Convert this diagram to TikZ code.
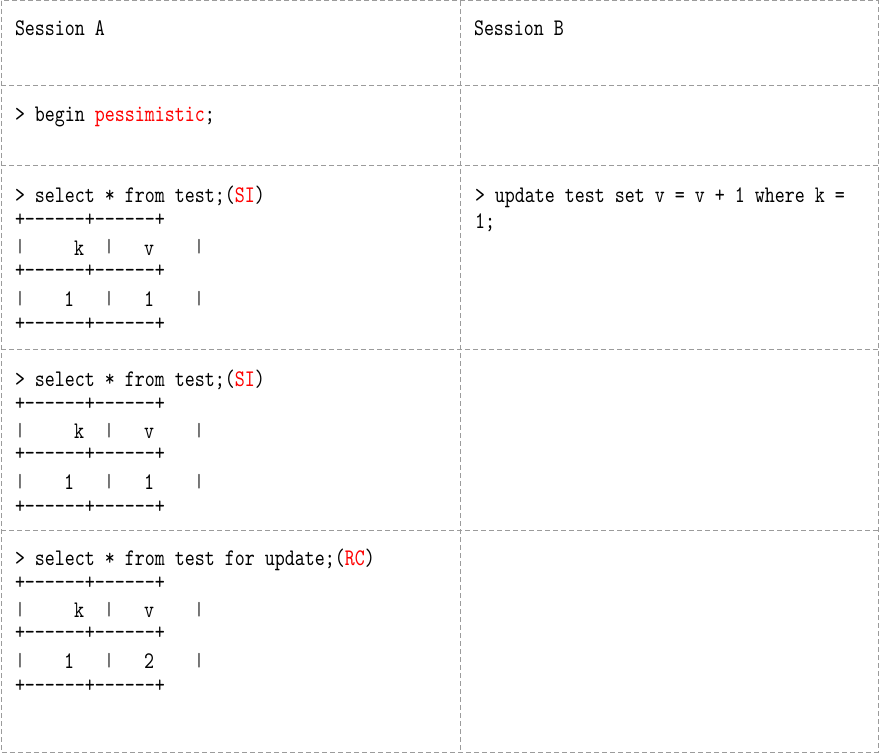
\documentclass[tikz,border=0pt]{standalone}
\usepackage{fontspec}
\newfontfamily\mono{lmmono10-regular.otf}[FakeStretch=0.8]
\definecolor{bordergray}{RGB}{155,155,155}
\definecolor{kwred}{RGB}{255,0,0}
\tikzset{
  cellline/.style={draw=bordergray, dash pattern=on 5pt off 3pt, line width=1pt},
  txt/.style={anchor=base west, inner sep=0pt, outer sep=0pt, font=\mono\fontsize{23.8}{26}\selectfont},
  ch/.style={anchor=base, inner sep=0pt, outer sep=0pt, font=\mono\fontsize{23.8}{26}\selectfont},
  bar/.style={anchor=base, inner sep=0pt, outer sep=0pt, font=\mono\fontsize{19}{20}\selectfont}
}
\newcommand{\asciitab}[3]{%
  \node[txt] (#1p1) at (15,#2) {+------+------+};
  \node[bar] (#1b1) at (20,#2+26) {|};
  \node[ch] (#1k) at (79,#2+28) {k};
  \node[bar] (#1b2) at (109,#2+26) {|};
  \node[ch] (#1v) at (149,#2+28) {v};
  \node[bar] (#1b3) at (199,#2+26) {|};
  \node[txt] (#1p2) at (15,#2+50) {+------+------+};
  \node[bar] (#1c1) at (20,#2+77) {|};
  \node[ch] (#1kv) at (69,#2+79) {1};
  \node[bar] (#1c2) at (109,#2+77) {|};
  \node[ch] (#1vv) at (149,#2+79) {#3};
  \node[bar] (#1c3) at (199,#2+77) {|};
  \node[txt] (#1p3) at (15,#2+103) {+------+------+};
}
\begin{document}
\begin{tikzpicture}[x=1pt,y=-1pt]
\useasboundingbox (0,0) rectangle (881,754);
% grid
\draw[cellline] (1,1) rectangle (878,752);
\draw[cellline] (460,1) -- (460,752);
\foreach \yy in {86,166,349,530} { \draw[cellline] (1,\yy) -- (878,\yy); }
% header
\node[txt] (ha) at (15,36) {Session A};
\node[txt] (hb) at (474,36) {Session B};
% row 2
\node[txt] (begin) at (15,122) {> begin {\color{kwred}pessimistic};};
% row 3
\node[txt] (sel1) at (15,203) {> select * from test;({\color{kwred}SI})};
\asciitab{ta}{227}{1}
\node[txt] (upd1) at (475,203) {> update test set v = v + 1 where k =};
\node[txt] (upd2) at (475,229) {1;};
% row 4
\node[txt] (sel2) at (15,386) {> select * from test;({\color{kwred}SI})};
\asciitab{tb}{410}{1}
% row 5
\node[txt] (sel3) at (15,565) {> select * from test for update;({\color{kwred}RC})};
\asciitab{tc}{589}{2}
\end{tikzpicture}
\end{document}
